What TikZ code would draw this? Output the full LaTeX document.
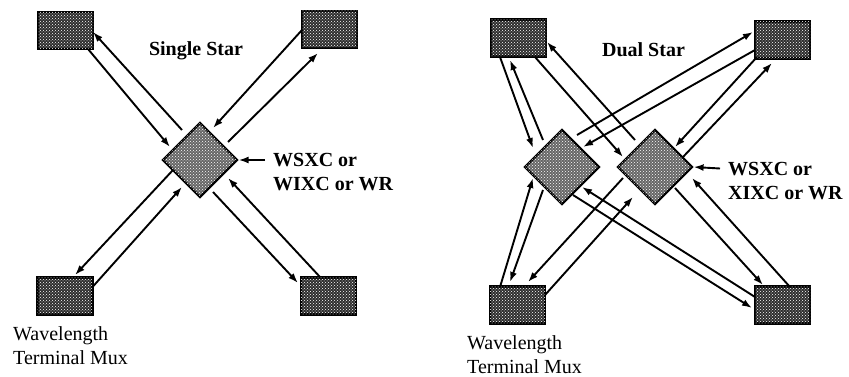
\documentclass[tikz,border=0pt]{standalone}
\usepackage{fontspec}
\setmainfont{Liberation Serif}
\usetikzlibrary{arrows.meta,shapes.geometric,patterns}

\begin{document}
\begin{tikzpicture}[x=1pt,y=-1pt,>={Latex[length=10pt,width=7pt]},
  every node/.style={font=\fontsize{20}{24}\selectfont},
  wtm/.style={draw,line width=2.2pt,fill=black!82,
    postaction={pattern=crosshatch dots,pattern color=white},
    minimum width=55pt,minimum height=37pt,inner sep=0pt},
  xc/.style={diamond,draw,line width=2.2pt,fill=black!60,
    postaction={pattern=crosshatch dots,pattern color=white},
    minimum width=75pt,minimum height=75pt,inner sep=0pt},
  link/.style={->,line width=1.9pt},
  tag/.style={align=left,anchor=west,inner sep=0pt}]
  \useasboundingbox (0,0) rectangle (849,377);

  % single star
  \node[wtm] (tl) at (65.5,30.5) {};
  \node[wtm] (tr) at (329.5,29.5) {};
  \node[wtm] (bl) at (65,296) {};
  \node[wtm] (br) at (328.5,296) {};
  \node[xc] (hub) at (200,160) {};
  \node[font=\bfseries\fontsize{20}{24}\selectfont] (single) at (196,51) {Single Star};
  \node[tag,font=\bfseries\fontsize{20}{24}\selectfont] (hubtag) at (273,172.5) {WSXC or\\WIXC or WR};
  \node[tag] (wtmtag) at (13,345.5) {Wavelength\\Terminal Mux};
  \draw[link] ([shift={(-8,-12.5)}]hubtag.west) -- (hub.east);

  \draw[link] ([shift={(22.5,18.5)}]tl.center) -- ([shift={(-30,-13)}]hub.center);
  \draw[link] ([shift={(-18,-30)}]hub.center) -- ([shift={(27.5,1.5)}]tl.center);
  \draw[link] ([shift={(-27.5,0.5)}]tr.center) -- ([shift={(13,-32)}]hub.center);
  \draw[link] ([shift={(28,-18)}]hub.center) -- ([shift={(-11.5,23.5)}]tr.center);
  \draw[link] ([shift={(-27,10)}]hub.center) -- ([shift={(10,-21)}]bl.center);
  \draw[link] ([shift={(27.5,-9)}]bl.center) -- ([shift={(-18,27)}]hub.center);
  \draw[link] ([shift={(13,32)}]hub.center) -- ([shift={(-30.5,-13)}]br.center);
  \draw[link] ([shift={(-8.5,-19)}]br.center) -- ([shift={(28,18)}]hub.center);

  % dual star
  \node[wtm] (tl2) at (518.5,38) {};
  \node[wtm] (tr2) at (782.5,40) {};
  \node[wtm] (bl2) at (517.5,305) {};
  \node[wtm] (br2) at (782.5,305) {};
  \node[xc] (dl) at (562,167) {};
  \node[xc] (dr) at (655,167) {};
  \node[font=\bfseries\fontsize{20}{24}\selectfont] (dual) at (643.5,50) {Dual Star};
  \node[tag,font=\bfseries\fontsize{20}{24}\selectfont] (drtag) at (728,181.5) {WSXC or\\XIXC or WR};
  \node[tag] (wtmtag2) at (467,354.5) {Wavelength\\Terminal Mux};
  \draw[link] ([shift={(-8,-13)}]drtag.west) -- (dr.east);

  \draw[link] ([shift={(-18.5,19)}]tl2.center) -- ([shift={(-29,-19)}]dl.center);
  \draw[link] ([shift={(-19,-27)}]dl.center) -- ([shift={(-8.5,22)}]tl2.center);
  \draw[link] ([shift={(16.5,19)}]tl2.center) -- ([shift={(-32,-10)}]dr.center);
  \draw[link] ([shift={(-20,-27)}]dr.center) -- ([shift={(28.5,4)}]tl2.center);
  \draw[link] ([shift={(15,-32)}]dl.center) -- ([shift={(-29.5,-8)}]tr2.center);
  \draw[link] ([shift={(-27.5,10)}]tr2.center) -- ([shift={(21,-20)}]dl.center);
  \draw[link] ([shift={(-25.5,17)}]tr2.center) -- ([shift={(20,-20)}]dr.center);
  \draw[link] ([shift={(28,-10)}]dr.center) -- ([shift={(-10.5,23)}]tr2.center);
  \draw[link] ([shift={(-17.5,-18)}]bl2.center) -- ([shift={(-29,11)}]dl.center);
  \draw[link] ([shift={(-19,23)}]dl.center) -- ([shift={(-7.5,-23)}]bl2.center);
  \draw[link] ([shift={(-32,11)}]dr.center) -- ([shift={(10.5,-23)}]bl2.center);
  \draw[link] ([shift={(27.5,-10)}]bl2.center) -- ([shift={(-22,30)}]dr.center);
  \draw[link] ([shift={(11,28)}]dl.center) -- ([shift={(-30.5,3)}]br2.center);
  \draw[link] ([shift={(-27.5,-8)}]br2.center) -- ([shift={(20,20)}]dl.center);
  \draw[link] ([shift={(20,21)}]dr.center) -- ([shift={(-19.5,-20)}]br2.center);
  \draw[link] ([shift={(7.5,-18)}]br2.center) -- ([shift={(37,11)}]dr.center);
\end{tikzpicture}
\end{document}
